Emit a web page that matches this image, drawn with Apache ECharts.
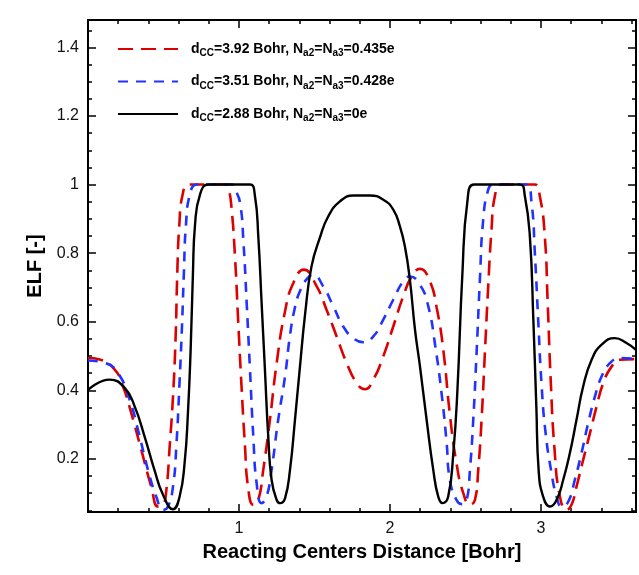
<!DOCTYPE html>
<html>
<head>
<meta charset="utf-8">
<script src="https://cdn.jsdelivr.net/npm/echarts@6/dist/echarts.min.js"></script>
<style>html,body{margin:0;padding:0;background:#fff}#c{width:639px;height:575px}</style>
</head>
<body>
<div id="c"></div>
<script>
// ---- data ----
const seriesNames = ['dcc392', 'dcc351', 'dcc288'];
const redX = [0, 0.077, 0.177, 0.232, 0.287, 0.353, 0.419, 0.464, 0.497, 0.519, 0.541, 0.563, 0.58, 0.592, 0.605, 0.627, 0.665, 0.79, 0.91, 0.93, 0.951, 0.974, 0.995, 1.017, 1.04, 1.06, 1.095, 1.128, 1.161, 1.205, 1.25, 1.305, 1.36, 1.43, 1.515, 1.58, 1.647, 1.713, 1.78, 1.834, 1.89, 1.956, 2.022, 2.088, 2.144, 2.199, 2.265, 2.31, 2.353, 2.397, 2.441, 2.486, 2.53, 2.563, 2.585, 2.607, 2.629, 2.651, 2.673, 2.695, 2.739, 2.85, 2.96, 2.993, 3.026, 3.045, 3.065, 3.09, 3.126, 3.17, 3.203, 3.236, 3.28, 3.325, 3.369, 3.413, 3.468, 3.523, 3.63];
const redY = [0.494, 0.49, 0.46, 0.411, 0.333, 0.226, 0.119, 0.061, 0.066, 0.109, 0.236, 0.382, 0.55, 0.75, 0.883, 0.971, 1.0, 1.0, 1.0, 0.99, 0.93, 0.787, 0.6, 0.411, 0.236, 0.119, 0.066, 0.08, 0.168, 0.314, 0.48, 0.63, 0.713, 0.752, 0.703, 0.635, 0.557, 0.48, 0.421, 0.403, 0.431, 0.499, 0.586, 0.674, 0.732, 0.754, 0.718, 0.64, 0.52, 0.33, 0.187, 0.1, 0.066, 0.08, 0.168, 0.314, 0.509, 0.703, 0.869, 0.966, 1.0, 1.0, 1.0, 0.966, 0.849, 0.655, 0.43, 0.23, 0.09, 0.051, 0.066, 0.119, 0.197, 0.275, 0.353, 0.421, 0.469, 0.489, 0.491];
const blueX = [0, 0.11, 0.199, 0.276, 0.331, 0.397, 0.452, 0.497, 0.53, 0.563, 0.585, 0.607, 0.622, 0.635, 0.649, 0.675, 0.72, 0.84, 0.955, 0.975, 1.007, 1.03, 1.051, 1.073, 1.095, 1.117, 1.15, 1.183, 1.216, 1.26, 1.305, 1.338, 1.37, 1.405, 1.45, 1.492, 1.558, 1.625, 1.691, 1.757, 1.823, 1.89, 1.956, 2.022, 2.088, 2.132, 2.199, 2.254, 2.3, 2.345, 2.375, 2.397, 2.441, 2.475, 2.508, 2.53, 2.552, 2.574, 2.596, 2.618, 2.651, 2.684, 2.8, 2.905, 2.938, 2.96, 2.982, 3.004, 3.03, 3.07, 3.104, 3.137, 3.181, 3.225, 3.269, 3.313, 3.358, 3.402, 3.457, 3.523, 3.63];
const blueY = [0.487, 0.48, 0.45, 0.372, 0.285, 0.168, 0.09, 0.051, 0.061, 0.119, 0.236, 0.43, 0.58, 0.74, 0.883, 0.971, 1.0, 1.0, 1.0, 0.985, 0.947, 0.83, 0.655, 0.46, 0.265, 0.129, 0.071, 0.09, 0.168, 0.314, 0.44, 0.56, 0.64, 0.69, 0.725, 0.737, 0.703, 0.645, 0.586, 0.552, 0.54, 0.557, 0.606, 0.664, 0.718, 0.732, 0.708, 0.645, 0.53, 0.38, 0.25, 0.139, 0.08, 0.068, 0.08, 0.168, 0.314, 0.509, 0.723, 0.898, 0.985, 1.0, 1.0, 1.0, 0.947, 0.80, 0.606, 0.42, 0.28, 0.16, 0.09, 0.061, 0.075, 0.139, 0.217, 0.304, 0.382, 0.44, 0.479, 0.494, 0.491];
const blackX = [0, 0.144, 0.243, 0.309, 0.375, 0.44, 0.497, 0.563, 0.607, 0.64, 0.662, 0.68, 0.695, 0.709, 0.742, 0.797, 0.94, 1.073, 1.106, 1.128, 1.15, 1.172, 1.194, 1.216, 1.25, 1.272, 1.305, 1.338, 1.371, 1.40, 1.44, 1.48, 1.536, 1.591, 1.669, 1.757, 1.868, 1.956, 2.022, 2.066, 2.099, 2.132, 2.166, 2.199, 2.243, 2.287, 2.32, 2.349, 2.386, 2.42, 2.447, 2.48, 2.513, 2.558, 2.70, 2.861, 2.894, 2.927, 2.95, 2.97, 2.985, 3.015, 3.06, 3.104, 3.148, 3.192, 3.236, 3.28, 3.336, 3.402, 3.49, 3.567, 3.63];
const blackY = [0.401, 0.431, 0.407, 0.353, 0.265, 0.168, 0.095, 0.053, 0.09, 0.188, 0.334, 0.52, 0.74, 0.883, 0.971, 1.0, 1.0, 1.0, 0.966, 0.849, 0.655, 0.46, 0.265, 0.139, 0.08, 0.071, 0.085, 0.168, 0.314, 0.45, 0.63, 0.76, 0.845, 0.907, 0.951, 0.968, 0.968, 0.956, 0.927, 0.878, 0.82, 0.723, 0.577, 0.47, 0.314, 0.168, 0.09, 0.071, 0.09, 0.217, 0.40, 0.74, 0.95, 1.0, 1.0, 1.0, 0.966, 0.849, 0.606, 0.35, 0.168, 0.09, 0.061, 0.08, 0.139, 0.217, 0.314, 0.411, 0.489, 0.533, 0.552, 0.538, 0.518];
const xMajorTicks = [1, 2, 3];
const xMinorTicks = [0.2, 0.4, 0.6, 0.8, 1.2, 1.4, 1.6, 1.8, 2.2, 2.4, 2.6, 2.8, 3.2, 3.4, 3.6];
const yMajorTicks = [0.2, 0.4, 0.6, 0.8, 1, 1.2, 1.4];
const yMinorTicks = [0.05, 0.1, 0.15, 0.25, 0.3, 0.35, 0.45, 0.5, 0.55, 0.65, 0.7, 0.75, 0.85, 0.9, 0.95, 1.05, 1.1, 1.15, 1.25, 1.3, 1.35, 1.45];
const legendLabels = {
  dcc392: ['CC', '=3.92 Bohr, N', 'a2', '=N', 'a3', '=0.435e'],
  dcc351: ['CC', '=3.51 Bohr, N', 'a2', '=N', 'a3', '=0.428e'],
  dcc288: ['CC', '=2.88 Bohr, N', 'a2', '=N', 'a3', '=0e']
};
const X_MIN = 0, X_MAX = 3.63, Y_MIN = 0.045, Y_MAX = 1.48;

function pairs(xs, ys) { return xs.map((x, i) => [x, ys[i]]); }

const FONT = 'Liberation Sans, Arial, sans-serif';
const black = '#000';

function xAxisDef(pos, minor, show) {
  return {
    type: 'value', position: pos, min: X_MIN, max: X_MAX,
    axisLine: { show: true, onZero: false, lineStyle: { color: black, width: 2 } },
    axisTick: { show: true, inside: true, length: minor ? 4 : 8, lineStyle: { color: black, width: 1.5 },
      customValues: minor ? xMinorTicks : xMajorTicks },
    axisLabel: { show: show, customValues: xMajorTicks, fontFamily: FONT, fontSize: 16, color: '#111', margin: 9 },
    splitLine: { show: false },
    name: show ? 'Reacting Centers Distance [Bohr]' : '',
    nameLocation: 'middle', nameGap: 30,
    nameTextStyle: { fontFamily: FONT, fontSize: 20, fontWeight: 'bold', color: black }
  };
}
function yAxisDef(pos, minor, show) {
  return {
    type: 'value', position: pos, min: Y_MIN, max: Y_MAX,
    axisLine: { show: true, onZero: false, lineStyle: { color: black, width: 2 } },
    axisTick: { show: true, inside: true, length: minor ? 4 : 8, lineStyle: { color: black, width: 1.5 },
      customValues: minor ? yMinorTicks : yMajorTicks },
    axisLabel: { show: show, customValues: yMajorTicks, fontFamily: FONT, fontSize: 16, color: '#111', margin: 9 },
    splitLine: { show: false },
    name: show ? 'ELF [-]' : '',
    nameLocation: 'middle', nameGap: 31,
    nameTextStyle: { fontFamily: FONT, fontSize: 20, fontWeight: 'bold', color: black }
  };
}

const chart = echarts.init(document.getElementById('c'), null, { renderer: 'canvas' });
const sub = { fontFamily: FONT, fontSize: 10, fontWeight: 'bold', color: black, padding: [9, 0, 0, 0] };
const main = { fontFamily: FONT, fontSize: 14, fontWeight: 'bold', color: black };
chart.setOption({
  animation: false,
  backgroundColor: '#fff',
  grid: { left: 88, right: 3, top: 20, bottom: 63, containLabel: false },
  xAxis: [xAxisDef('bottom', false, true), xAxisDef('bottom', true, false), xAxisDef('top', false, false), xAxisDef('top', true, false)],
  yAxis: [yAxisDef('left', false, true), yAxisDef('left', true, false), yAxisDef('right', false, false), yAxisDef('right', true, false)],
  legend: {
    orient: 'vertical', left: 117, top: 42, padding: 0, itemWidth: 60, itemHeight: 14, itemGap: 16,
    data: seriesNames,
    itemStyle: { opacity: 0 },
    formatter: function (name) {
      const p = legendLabels[name];
      return '{m|d}{s|' + p[0] + '}{m|' + p[1] + '}{s|' + p[2] + '}{m|' + p[3] + '}{s|' + p[4] + '}{m|' + p[5] + '}';
    },
    textStyle: { padding: [0, 0, 0, 8], rich: { m: main, s: sub } }
  },
  series: [
    { name: seriesNames[0], type: 'line', data: pairs(redX, redY), symbol: 'none', smooth: 0.5,
      lineStyle: { color: '#dd0000', width: 2.6, type: [15, 8] }, itemStyle: { color: '#dd0000' } },
    { name: seriesNames[1], type: 'line', data: pairs(blueX, blueY), symbol: 'none', smooth: 0.5,
      lineStyle: { color: '#2233ff', width: 2.6, type: [10, 8] }, itemStyle: { color: '#2233ff' } },
    { name: seriesNames[2], type: 'line', data: pairs(blackX, blackY), symbol: 'none', smooth: 0.5,
      lineStyle: { color: '#000', width: 2.4, type: 'solid' }, itemStyle: { color: '#000' } }
  ]
});
</script>
</body>
</html>
